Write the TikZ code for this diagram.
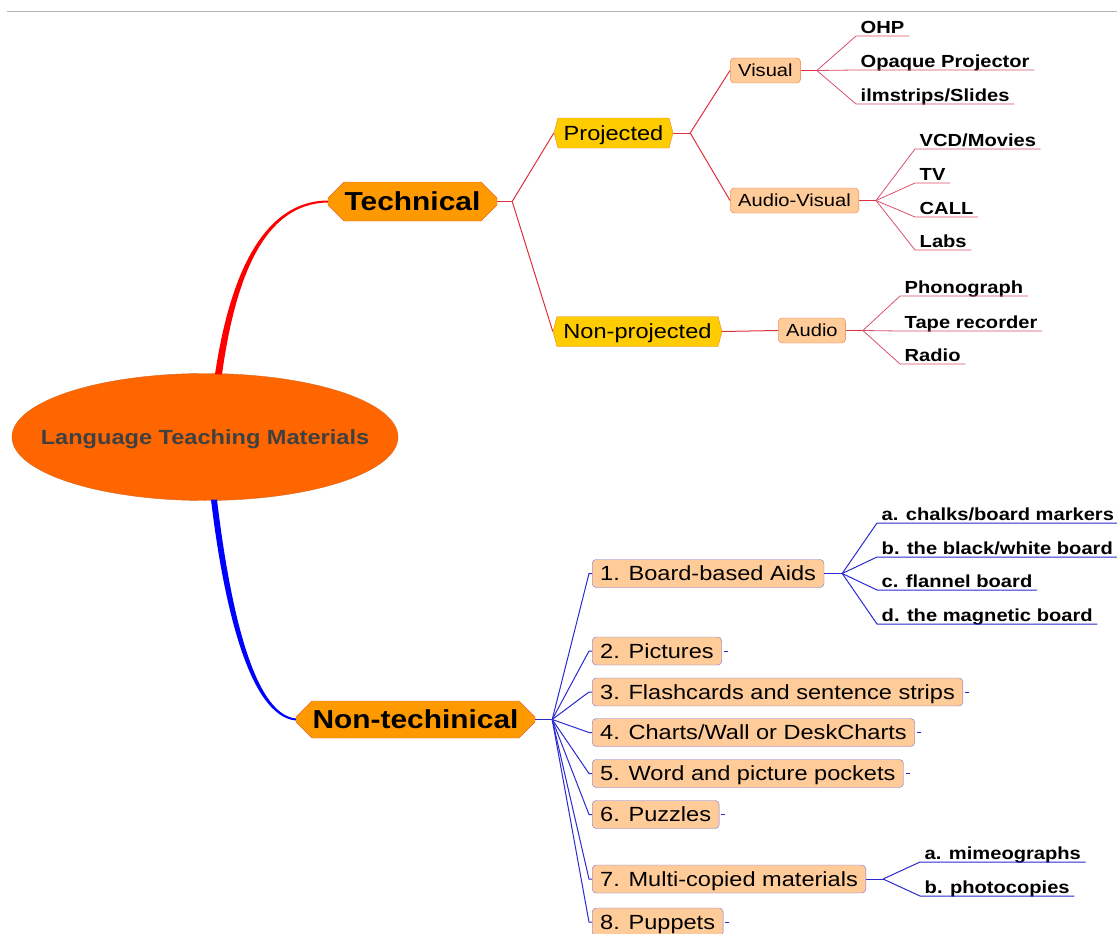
\documentclass[tikz,border=0pt]{standalone}
\usepackage{fontspec}
\setmainfont{Liberation Sans}
\newfontfamily\mapfont[FakeStretch=1.15]{Liberation Sans}
\usetikzlibrary{shapes.geometric,shapes.misc,shapes.symbols,calc}

\definecolor{rootfill}{HTML}{FF6600}
\definecolor{rootedge}{HTML}{D9651E}
\definecolor{mainfill}{HTML}{FF9900}
\definecolor{mainedge}{HTML}{E8642C}
\definecolor{subfill}{HTML}{FFCC00}
\definecolor{subedge}{HTML}{E8842C}
\definecolor{peach}{HTML}{FFCC99}
\definecolor{peachedge}{HTML}{E87A50}
\definecolor{itemedge}{HTML}{7A6FD8}
\definecolor{techred}{HTML}{FF0000}
\definecolor{redwire}{HTML}{E0303A}
\definecolor{leafred}{HTML}{D8506A}
\definecolor{nonblue}{HTML}{0000FF}
\definecolor{bluewire}{HTML}{2A2AD0}
\definecolor{roottext}{HTML}{404040}

\tikzset{
  rootnode/.style={ellipse, draw=rootedge, fill=rootfill, inner xsep=-40pt, inner ysep=0pt,
    minimum width=386pt, minimum height=127pt, text=roottext,
    font=\mapfont\bfseries\fontsize{20.5}{24}\selectfont, text height=14.8pt, text depth=0pt},
  mainnode/.style={chamfered rectangle, chamfered rectangle xsep=8pt,
    chamfered rectangle ysep=8pt, draw=mainedge, fill=mainfill, inner sep=0pt,
    font=\mapfont\bfseries\fontsize{26}{30}\selectfont, text height=18.7pt, text depth=0pt},
  subnode/.style={signal, signal to=west and east, signal pointer angle=150,
    draw=subedge, fill=subfill, inner sep=0pt, minimum height=30pt,
    font=\mapfont\fontsize{20.5}{24}\selectfont, text height=14.8pt, text depth=0pt},
  mediabox/.style={rectangle, rounded corners=4pt, draw=peachedge, fill=peach,
    anchor=west, minimum height=25pt, inner xsep=8pt, inner ysep=0pt,
    font=\mapfont\fontsize{17.5}{21}\selectfont, text height=12.6pt, text depth=0pt},
  itembox/.style={rectangle, rounded corners=4pt, draw=itemedge, fill=peach,
    anchor=west, minimum height=28pt, inner xsep=8pt, inner ysep=0pt,
    font=\mapfont\fontsize{20.5}{24}\selectfont, text height=14.8pt, text depth=0pt},
  leaf/.style={anchor=south west, inner xsep=4.5pt, inner ysep=0.5pt,
    font=\mapfont\bfseries\fontsize{17.5}{21}\selectfont, text height=12.6pt, text depth=2pt},
  redlink/.style={draw=redwire, line width=1pt},
  leaflink/.style={draw=leafred, line width=0.8pt},
  bluelink/.style={draw=bluewire, line width=1pt}
}

\begin{document}
\begin{tikzpicture}[x=1pt,y=1pt,yscale=-1,xscale=1]
\useasboundingbox (0,0) rectangle (1117,934);

%Straight Lines: page rule
\draw [color=black!30, line width=1pt] (7,12) -- (1117,12);

% Root
\node [rootnode] (ltm) at (205,437) {Language Teaching Materials};

% Main branches
\node [mainnode, minimum width=169pt, minimum height=39pt] (tech) at (412.5,201.5) {Technical};
\node [mainnode, minimum width=239pt, minimum height=37pt] (nontech) at (415.5,719.5) {Non-techinical};

%Curve Lines: thick branches
\fill [techred] ($(ltm.north)+(10,1)$) .. controls (229,280) and (261,201) .. ($(tech.west)+(0,-1)$)
  -- ($(tech.west)+(0,1)$) .. controls (263,203.5) and (235,280) .. ($(ltm.north)+(17,1)$) -- cycle;
\fill [nonblue] ($(ltm.south)+(6,-1)$) .. controls (223,600) and (248,716) .. ($(nontech.west)+(0,1)$)
  -- ($(nontech.west)+(0,-1)$) .. controls (252,714) and (229,600) .. ($(ltm.south)+(12,-1)$) -- cycle;

% Technical side
\node [subnode, minimum width=119pt] (proj) at (613.5,133) {Projected};
\node [subnode, minimum width=169pt] (nonproj) at (637.5,331.5) {Non-projected};

\draw [redlink] (tech.east) -- ++(15,0) coordinate (techfork);
\draw [redlink] (techfork) -- (proj.west);
\draw [redlink] (techfork) -- (nonproj.west);

\node [mediabox] (visual) at (730,70.5) {Visual};
\node [mediabox] (audiovis) at (730,200.5) {Audio-Visual};
\node [mediabox] (audio) at (778,330.5) {Audio};

\draw [redlink] (proj.east) -- ++(17,0) coordinate (projfork);
\draw [redlink] (projfork) -- (visual.west);
\draw [redlink] (projfork) -- (audiovis.west);
\draw [redlink] (nonproj.east) -- (audio.west);

% Leaves
\node [leaf] (ohp) at (856,36) {OHP};
\node [leaf] (opaque) at (856,70) {Opaque Projector};
\node [leaf] (slides) at (856,104) {ilmstrips/Slides};
\node [leaf] (vcd) at (915,149) {VCD/Movies};
\node [leaf] (tv) at (915,183) {TV};
\node [leaf] (call) at (915,217) {CALL};
\node [leaf] (labs) at (915,250) {Labs};
\node [leaf] (phono) at (900,296) {Phonograph};
\node [leaf] (tape) at (900,331) {Tape recorder};
\node [leaf] (radio) at (900,364) {Radio};

\draw [redlink] (visual.east) -- ++(16,0) coordinate (visfork);
\draw [redlink] (audiovis.east) -- ++(17,0) coordinate (avfork);
\draw [redlink] (audio.east) -- ++(17,0) coordinate (audiofork);
\foreach \n in {ohp,opaque,slides}
  \draw [leaflink] (visfork) -- (\n.south west) -- (\n.south east);
\foreach \n in {vcd,tv,call,labs}
  \draw [leaflink] (avfork) -- (\n.south west) -- (\n.south east);
\foreach \n in {phono,tape,radio}
  \draw [leaflink] (audiofork) -- (\n.south west) -- (\n.south east);

% Non-technical side
\node [itembox] (b1) at (592,573.5) {1. Board-based Aids};
\node [itembox] (b2) at (592,651) {2. Pictures};
\node [itembox] (b3) at (592,692) {3. Flashcards and sentence strips};
\node [itembox] (b4) at (592,732.5) {4. Charts/Wall or DeskCharts};
\node [itembox] (b5) at (592,773.5) {5. Word and picture pockets};
\node [itembox] (b6) at (592,814.5) {6. Puzzles};
\node [itembox] (b7) at (592,879) {7. Multi-copied materials};
\node [itembox] (b8) at (592,922) {8. Puppets};

\draw [bluelink] (nontech.east) -- ++(17,0) coordinate (ntfork);
\foreach \n in {b1,b2,b3,b4,b5,b6,b7,b8}
  \draw [bluelink] (ntfork) -- ($(\n.west)+(-3,0)$) -- (\n.west);
\foreach \n in {b2,b3,b4,b5,b6,b8}
  \draw [bluelink] ($(\n.east)+(2,0)$) -- ++(4,0);

\node [leaf] (chalk) at (877,523) {a. chalks/board markers};
\node [leaf] (board) at (877,557) {b. the black/white board};
\node [leaf] (flannel) at (877,590) {c. flannel board};
\node [leaf] (magnet) at (877,624) {d. the magnetic board};
\node [leaf] (mimeo) at (920,862) {a. mimeographs};
\node [leaf] (photo) at (920,896) {b. photocopies};

\draw [bluelink] (b1.east) -- ++(18,0) coordinate (b1fork);
\draw [bluelink] (b7.east) -- ++(17,0) coordinate (b7fork);
\foreach \n in {chalk,board,flannel,magnet}
  \draw [bluelink] (b1fork) -- (\n.south west) -- (\n.south east);
\foreach \n in {mimeo,photo}
  \draw [bluelink] (b7fork) -- (\n.south west) -- (\n.south east);

\end{tikzpicture}
\end{document}
